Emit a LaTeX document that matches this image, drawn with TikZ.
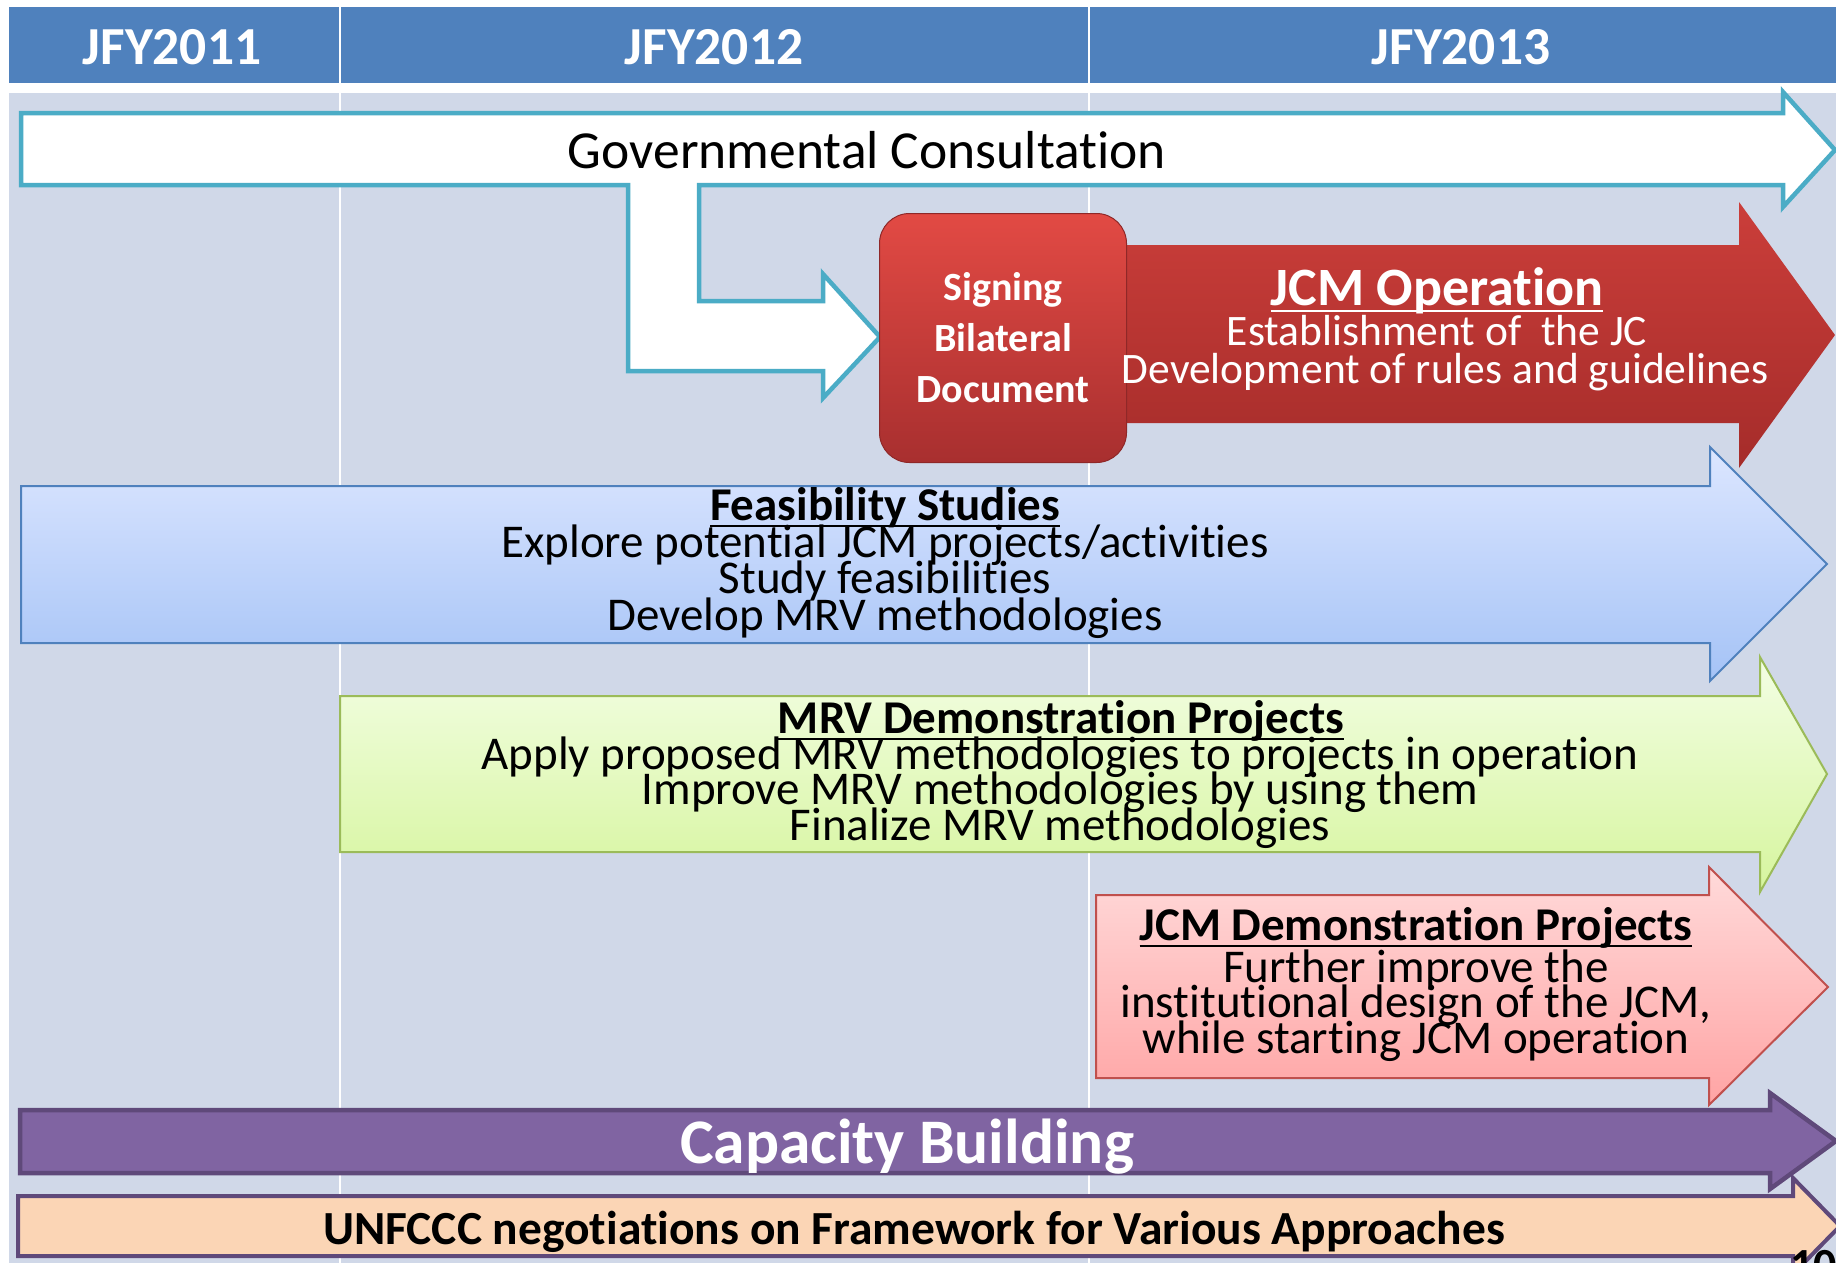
\documentclass[tikz,border=0pt]{standalone}
\usepackage{fontspec}
\setmainfont[Ligatures=NoCommon]{Carlito}
\usetikzlibrary{%
  calc,positioning}
\newsavebox{\ulsave}
\newcommand{\ulbar}[1]{\sbox\ulsave{#1}\rlap{\rule[-7pt]{\wd\ulsave}{2.5pt}}\usebox\ulsave}
\definecolor{hdrblue}{HTML}{4F81BD}
\definecolor{bggray}{HTML}{D0D8E8}
\definecolor{govteal}{HTML}{4BACC6}
\definecolor{purpfill}{HTML}{8064A2}
\definecolor{purpline}{HTML}{5F497A}
\definecolor{peach}{HTML}{FBD5B5}
\definecolor{optop}{HTML}{CB3E3A}
\definecolor{opbot}{HTML}{A52C2A}
\definecolor{signtop}{HTML}{E24A44}
\definecolor{signbot}{HTML}{A82F2F}
\definecolor{fstop}{HTML}{DCE6FF}
\definecolor{fsbot}{HTML}{A5C3F6}
\definecolor{mrvtop}{HTML}{F3FEE4}
\definecolor{mrvbot}{HTML}{D6F59E}
\definecolor{mrvline}{HTML}{9BBB59}
\definecolor{demotop}{HTML}{FFDADA}
\definecolor{demobot}{HTML}{FFA4A4}
\definecolor{demoline}{HTML}{C0504D}
\tikzset{
  yearlbl/.style={anchor=base,inner sep=0pt,text=white,
    font=\bfseries\fontsize{53.5}{53.5}\selectfont},
  govarrow/.style={draw=govteal,fill=white,line width=4.5pt,line join=miter},
  oparrow/.style={top color=optop,bottom color=opbot},
  signbox/.style={rectangle,rounded corners=30pt,minimum width=247pt,
    minimum height=249pt,inner sep=0pt,align=center,text=white,
    top color=signtop,bottom color=signbot,
    draw=signbot!85!black,line width=1pt,
    font=\bfseries\fontsize{40}{51}\selectfont},
  fsarrow/.style={draw=hdrblue,line width=2pt,top color=fstop,bottom color=fsbot},
  mrvarrow/.style={draw=mrvline,line width=2pt,top color=mrvtop,bottom color=mrvbot},
  demoarrow/.style={draw=demoline,line width=2pt,top color=demotop,bottom color=demobot},
  cbarrow/.style={draw=purpline,fill=purpfill,line width=4.5pt},
  unarrow/.style={draw=purpline,fill=peach,line width=4pt},
  arrowlbl/.style={anchor=base,inner sep=0pt},
  headlbl/.style={arrowlbl,font=\bfseries\fontsize{47}{47}\selectfont},
  bodylbl/.style={arrowlbl,font=\fontsize{47}{47}\selectfont},
}

\begin{document}
\begin{tikzpicture}[x=1pt,y=-1pt]
\useasboundingbox (0,0) rectangle (1836,1263);
\fill[white] (0,0) rectangle (1836,1263);
\fill[hdrblue] (9,7) rectangle (1836,83);
\fill[bggray] (9,93) rectangle (1836,1263);
\foreach \x in {340,1089} {
  \draw[white,line width=2.5pt] (\x,7) -- (\x,83);
  \draw[white,line width=2.5pt] (\x,93) -- (\x,1263);
}
\node[yearlbl] (jfy11) at (172,65) {JFY2011};
\node[yearlbl] (jfy12) at (714,65) {JFY2012};
\node[yearlbl] (jfy13) at (1461,65) {JFY2013};

\draw[govarrow] (21,113) -- (1783,113) -- (1783,92) -- (1835,150) -- (1783,207)
  -- (1783,185) -- (699,185) -- (699,301) -- (823,301) -- (823,274) -- (880,337)
  -- (823,398) -- (823,371) -- (628,371) -- (628,185) -- (21,185) -- cycle;
\node[arrowlbl,font=\fontsize{53.5}{53.5}\selectfont] (gov) at (867,168) {Governmental Consultation};

\shade[oparrow] (1124,245) -- (1739,245) -- (1739,202) -- (1835,335) -- (1739,468)
  -- (1739,423) -- (1124,423) -- cycle;
\node[signbox] (sign) at (1003,338) {Signing\\Bilateral\\Document};
\node[arrowlbl,text=white,font=\bfseries\fontsize{54}{54}\selectfont] (optitle) at (1437,305) {\ulbar{JCM Operation}};
\node[arrowlbl,text=white,font=\fontsize{43.5}{43.5}\selectfont] (opline1) at (1437,345) {Establishment of\ \ the JC};
\node[arrowlbl,text=white,font=\fontsize{43.5}{43.5}\selectfont] (opline2) at (1445,383) {Development of rules and guidelines};

\shadedraw[fsarrow] (21,486) -- (1710,486) -- (1710,447) -- (1827,564) -- (1710,681)
  -- (1710,643) -- (21,643) -- cycle;
\node[headlbl] (fstitle) at (885,520) {\ulbar{Feasibility Studies}};
\foreach \t [count=\i from 0] in {Explore potential JCM projects/activities,
    Study feasibilities, Develop MRV methodologies}
  \node[bodylbl] (fsline\i) at (885,{557+36.5*\i}) {\t};

\shadedraw[mrvarrow] (340,696) -- (1760,696) -- (1760,657) -- (1827,774) -- (1760,892)
  -- (1760,852) -- (340,852) -- cycle;
\node[headlbl] (mrvtitle) at (1061,733) {\ulbar{MRV Demonstration Projects}};
\foreach \t [count=\i from 0] in {Apply proposed MRV methodologies to projects in operation,
    Improve MRV methodologies by using them, Finalize MRV methodologies}
  \node[bodylbl] (mrvline\i) at (1060,{769+35.7*\i}) {\t};

\shadedraw[demoarrow] (1096,895) -- (1709,895) -- (1709,867) -- (1828,987) -- (1709,1105)
  -- (1709,1078) -- (1096,1078) -- cycle;
\node[headlbl] (demotitle) at (1416,940) {\ulbar{JCM Demonstration Projects}};
\foreach \t [count=\i from 0] in {Further improve the,
    {institutional design of the JCM,}, while starting JCM operation}
  \node[bodylbl] (demoline\i) at (1416,{982+35.7*\i}) {\t};

\draw[cbarrow] (20,1110) -- (1770,1110) -- (1770,1093) -- (1836,1141) -- (1770,1189)
  -- (1770,1173) -- (20,1173) -- cycle;
\node[arrowlbl,text=white,font=\bfseries\fontsize{63.5}{63.5}\selectfont] (cb) at (907,1163) {Capacity Building};

\draw[unarrow] (18,1196) -- (1793,1196) -- (1793,1178) -- (1840,1226) -- (1793,1274)
  -- (1793,1256) -- (18,1256) -- cycle;
\node[arrowlbl,font=\bfseries\fontsize{47.5}{47.5}\selectfont] (unfccc) at (914,1244)
  {UNFCCC negotiations on Framework for Various Approaches};
\node[anchor=base west,inner sep=0pt,font=\bfseries\fontsize{46}{46}\selectfont] (pgno) at (1790,1280) {10};
\end{tikzpicture}
\end{document}
